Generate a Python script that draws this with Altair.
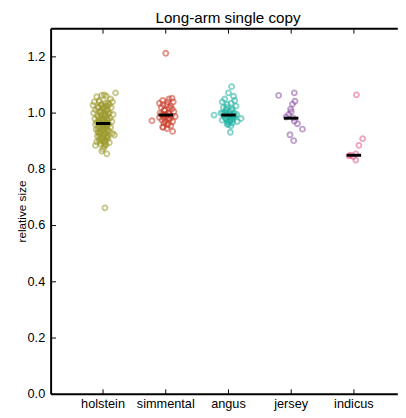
import json
import altair as alt
import pandas as pd

# ---------------- data ----------------
breeds = ["holstein", "simmental", "angus", "jersey", "indicus"]
colors = ["#9c9a2c", "#cb3d2a", "#1fb2a1", "#8c52a2", "#e05a8a"]

hol_vals = [1.065, 1.063, 1.072, 1.06, 1.058, 1.05, 1.045, 1.04, 1.04, 1.035,
            1.03, 1.03, 1.028, 1.025, 1.02, 1.02, 1.015, 1.012, 1.01, 1.005,
            1.0, 1.0, 0.998, 0.995, 0.99, 0.99, 0.985, 0.982, 0.98, 0.978,
            0.975, 0.972, 0.97, 0.968, 0.965, 0.962, 0.96, 0.96, 0.958, 0.955,
            0.952, 0.95, 0.948, 0.945, 0.942, 0.94, 0.938, 0.935, 0.932, 0.93,
            0.928, 0.925, 0.922, 0.92, 0.918, 0.915, 0.912, 0.91, 0.905, 0.9,
            0.898, 0.895, 0.89, 0.888, 0.885, 0.88, 0.872, 0.865, 0.855, 0.663,
            1.04, 1.035, 1.03, 1.025, 1.02, 1.018, 1.01, 1.005, 1.0, 0.995,
            0.99, 0.985, 0.98, 0.975, 0.97, 0.965, 0.96, 0.955, 0.95, 0.945,
            0.94, 0.935, 0.93, 0.925, 0.92, 0.915, 0.91, 0.905, 0.9, 0.895,
            1.022, 1.008, 0.992, 0.978, 0.962, 0.948, 0.933, 0.918, 0.902, 0.888]
hol_jit = [0.02, -0.02, 0.2, 0.05, -0.1, 0.12, -0.06, 0.15, -0.14, 0.08,
           -0.03, 0.1, -0.16, 0.04, -0.08, 0.13, 0.0, -0.12, 0.07, -0.05,
           0.1, -0.15, 0.03, 0.16, -0.09, 0.06, -0.02, 0.11, -0.13, 0.01,
           0.08, -0.06, 0.14, -0.1, 0.04, -0.03, 0.09, -0.12, 0.0, 0.06,
           -0.07, 0.12, -0.04, 0.02, -0.11, 0.07, -0.02, 0.1, -0.08, 0.04,
           0.15, -0.05, 0.18, 0.01, -0.09, 0.06, -0.03, 0.08, -0.06, 0.03,
           -0.1, 0.1, -0.04, 0.05, -0.12, 0.02, 0.0, -0.02, 0.06, 0.03,
           -0.06, 0.04, -0.02, 0.07, -0.08, 0.02, 0.05, -0.05, 0.08, -0.03,
           0.03, -0.07, 0.06, -0.01, 0.04, -0.06, 0.07, -0.02, 0.05, -0.08,
           0.01, 0.06, -0.04, 0.03, -0.06, 0.05, -0.02, 0.04, -0.05, 0.02,
           0.0, -0.03, 0.02, -0.05, 0.05, 0.0, -0.07, 0.07, -0.01, 0.03]

sim_vals = [1.213, 1.053, 1.05, 1.045, 1.04, 1.035, 1.03, 1.025, 1.02, 1.015,
            1.01, 1.005, 1.0, 0.998, 0.995, 0.993, 0.99, 0.988, 0.985, 0.982,
            0.98, 0.975, 0.973, 0.97, 0.965, 0.96, 0.955, 0.95, 0.945, 0.935,
            1.04, 1.03, 1.02, 1.01, 1.0, 0.995, 0.99, 0.985, 0.98, 0.97,
            0.96, 0.95]
sim_jit = [0.0, 0.1, 0.05, -0.05, 0.12, -0.1, 0.02, 0.08, -0.07, 0.1,
           -0.02, 0.13, -0.09, 0.05, 0.0, -0.04, 0.09, 0.15, -0.1, 0.03,
           0.07, -0.06, -0.22, 0.11, -0.03, 0.04, 0.08, -0.05, 0.02, 0.11,
           0.03, -0.04, 0.06, -0.02, 0.04, -0.06, 0.01, -0.03, 0.05, -0.01,
           0.02, -0.04]

ang_vals = [1.094, 1.072, 1.06, 1.05, 1.045, 1.04, 1.035, 1.03, 1.025, 1.02,
            1.015, 1.01, 1.005, 1.0, 1.0, 0.998, 0.995, 0.993, 0.99, 0.99,
            0.988, 0.985, 0.982, 0.981, 0.978, 0.975, 0.972, 0.97, 0.968, 0.965,
            0.96, 0.955, 0.932,
            1.02, 1.01, 1.0, 0.995, 0.99, 0.985, 0.98, 0.975, 0.97, 0.99,
            1.0, 0.96]
ang_jit = [0.05, 0.0, 0.08, -0.06, 0.1, -0.1, 0.04, -0.02, 0.12, -0.08,
           0.06, -0.04, 0.02, -0.12, 0.09, -0.03, 0.13, -0.23, 0.05, -0.07,
           0.1, 0.0, -0.05, 0.2, 0.07, -0.1, 0.03, 0.14, -0.02, 0.06,
           0.0, 0.04, 0.03,
           -0.03, 0.05, -0.06, 0.02, -0.02, 0.06, -0.04, 0.03, 0.0, 0.08,
           -0.09, -0.02]

jer_vals = [1.063, 1.072, 1.042, 1.032, 1.014, 1.005, 0.995, 0.986, 0.983, 0.972,
            0.962, 0.943, 0.923, 0.902]
jer_jit = [-0.2, 0.05, 0.06, 0.02, -0.01, 0.0, -0.04, -0.08, 0.03, 0.05,
           0.1, 0.18, -0.02, 0.04]

ind_vals = [1.065, 0.909, 0.885, 0.855, 0.848, 0.845, 0.833, 0.85]
ind_jit = [0.04, 0.14, 0.08, 0.03, -0.08, -0.01, 0.03, -0.05]

medians = [0.963, 0.993, 0.993, 0.982, 0.85]

x_ticks = [0, 1, 2, 3, 4]
y_ticks = [0.0, 0.2, 0.4, 0.6, 0.8, 1.0, 1.2]
y_tick_labels = ["0.0", "0.2", "0.4", "0.6", "0.8", "1.0", "1.2"]

title_text = "Long-arm single copy"
y_title = "relative size"

# ---------------- tables ----------------
X_MIN, X_MAX, X_EXT = -0.828, 4.578, 4.7
Y_MIN, Y_MAX = 0.0, 1.3
W, H = 346, 373
FONT = "Liberation Sans"

groups = [(hol_vals, hol_jit), (sim_vals, sim_jit), (ang_vals, ang_jit),
          (jer_vals, jer_jit), (ind_vals, ind_jit)]
rows = []
for i, (vals, jits) in enumerate(groups):
    for v, j in zip(vals, jits):
        rows.append({"breed": breeds[i], "pos": i + j, "value": v})
df = pd.DataFrame(rows)
med_df = pd.DataFrame({"idx": list(range(5)), "median": medians})
frame_h = pd.DataFrame({"x0": [X_MIN, X_MIN], "x1": [X_EXT, X_EXT], "yy": [Y_MIN, Y_MAX]})
frame_v = pd.DataFrame({"xx": [X_MIN], "y0": [Y_MIN], "y1": [Y_MAX]})
bt_df = pd.DataFrame({"tb": x_ticks})
tt_df = pd.DataFrame({"tt": x_ticks})
lt_df = pd.DataFrame({"tl": y_ticks})
xl_df = pd.DataFrame({"xl": x_ticks, "name": breeds})
yl_df = pd.DataFrame({"yl": y_ticks, "lab": y_tick_labels})
one = pd.DataFrame({"k": [0]})
one2 = pd.DataFrame({"k2": [1]})

xscale = alt.Scale(domain=[X_MIN, X_MAX], nice=False, zero=False)
yscale = alt.Scale(domain=[Y_MIN, Y_MAX], nice=False, zero=False)

ytitle = alt.Chart(one2).mark_text(fontSize=12, font=FONT, color="black", align="center",
                                    baseline="middle", angle=270).encode(
    x=alt.value(-30), y=alt.value(H / 2), text=alt.value(y_title))

points = alt.Chart(df).mark_point(filled=False, size=26, strokeWidth=1.9, opacity=0.55).encode(
    x=alt.X("pos:Q", scale=xscale, axis=None),
    y=alt.Y("value:Q", scale=yscale, axis=None),
    color=alt.Color("breed:N", scale=alt.Scale(domain=breeds, range=colors), legend=None),
)

med = alt.Chart(med_df).transform_calculate(
    x1="datum.idx - 0.115", x2="datum.idx + 0.115"
).mark_rule(color="black", strokeWidth=3).encode(
    x=alt.X("x1:Q", scale=xscale, axis=None), x2="x2:Q",
    y=alt.Y("median:Q", scale=yscale, axis=None))

hl = alt.Chart(frame_h).mark_rule(color="black", strokeWidth=2).encode(
    x=alt.X("x0:Q", scale=xscale, axis=None), x2="x1:Q",
    y=alt.Y("yy:Q", scale=yscale, axis=None))
vl = alt.Chart(frame_v).mark_rule(color="black", strokeWidth=2).encode(
    x=alt.X("xx:Q", scale=xscale, axis=None),
    y=alt.Y("y0:Q", scale=yscale, axis=None), y2="y1:Q")

bt = alt.Chart(bt_df).mark_rule(color="black", strokeWidth=1).encode(
    x=alt.X("tb:Q", scale=xscale, axis=None), y=alt.value(H), y2=alt.value(H - 5))
tt = alt.Chart(tt_df).mark_rule(color="black", strokeWidth=1).encode(
    x=alt.X("tt:Q", scale=xscale, axis=None), y=alt.value(0.5), y2=alt.value(5))
lt = alt.Chart(lt_df).mark_rule(color="black", strokeWidth=1).encode(
    y=alt.Y("tl:Q", scale=yscale, axis=None), x=alt.value(0.5), x2=alt.value(5))

xlabels = alt.Chart(xl_df).mark_text(fontSize=13, font=FONT, color="black", align="center",
                                      baseline="top").encode(
    x=alt.X("xl:Q", scale=xscale, axis=None), y=alt.value(H + 4), text="name:N")
ylabels = alt.Chart(yl_df).mark_text(fontSize=13, font=FONT, color="black", align="right",
                                      baseline="middle").encode(
    y=alt.Y("yl:Q", scale=yscale, axis=None), x=alt.value(-6), text="lab:N")

title = alt.Chart(one).mark_text(fontSize=15.5, font=FONT, color="black", align="center",
                                  baseline="alphabetic").encode(
    x=alt.value(180.5), y=alt.value(-6), text=alt.value(title_text))

chart = alt.layer(ytitle, points, med, hl, vl, bt, tt, lt, xlabels, ylabels, title).properties(
    width=W, height=H,
    padding={"left": 44, "top": 17, "right": 8, "bottom": 18},
    autosize=alt.AutoSizeParams(type="none"),
).configure_view(stroke=None)

chart.save("out.html", embed_options={"renderer": "svg", "actions": False})
